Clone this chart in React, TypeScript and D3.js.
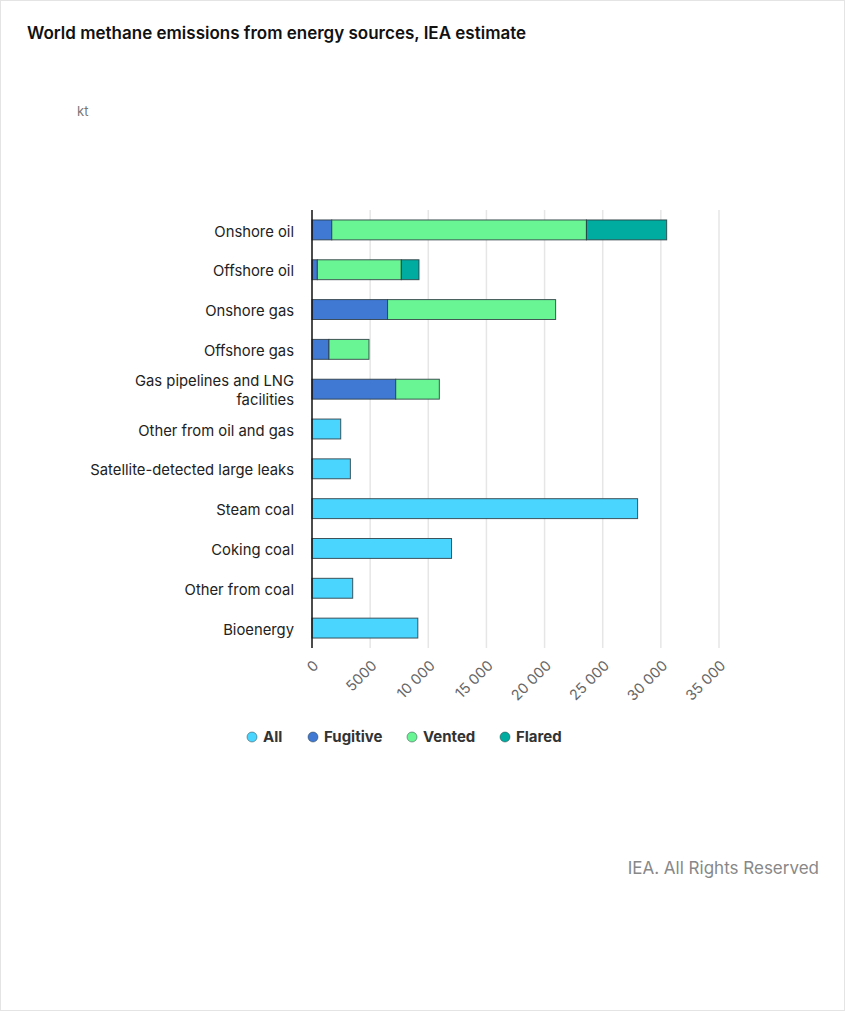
import * as React from 'react';
import * as d3 from 'd3';

const categories = [
  'Onshore oil',
  'Offshore oil',
  'Onshore gas',
  'Offshore gas',
  'Gas pipelines and LNG facilities',
  'Other from oil and gas',
  'Satellite-detected large leaks',
  'Steam coal',
  'Coking coal',
  'Other from coal',
  'Bioenergy',
];

const allValues = [0, 0, 0, 0, 0, 2470, 3300, 28000, 12000, 3500, 9100];
const fugitiveValues = [1700, 460, 6500, 1460, 7200, 0, 0, 0, 0, 0, 0];
const ventedValues = [21900, 7220, 14450, 3440, 3750, 0, 0, 0, 0, 0, 0];
const flaredValues = [6900, 1520, 0, 0, 0, 0, 0, 0, 0, 0, 0];

const xTicks = [0, 5000, 10000, 15000, 20000, 25000, 30000, 35000];

const seriesNames = ['All', 'Fugitive', 'Vented', 'Flared'];
const seriesColors = ['#4ad5ff', '#3f79d4', '#69f594', '#00ac9f'];

const W = 845;
const H = 1011;
const font = 'Inter, "Noto Sans", sans-serif';

function fmt(v: number) {
  if (v < 10000) return String(v);
  return d3.format(',')(v).replace(/,/g, ' ');
}

export default function App() {
  const margin = { top: 210, left: 312, right: 126, bottom: 363 };
  const x = d3.scaleLinear().domain([0, 35000]).range([margin.left, W - margin.right]);
  const y = d3.scaleBand<string>()
    .domain(categories)
    .range([margin.top, H - margin.bottom])
    .paddingInner(0.5)
    .paddingOuter(0.25);

  const series = [allValues, fugitiveValues, ventedValues, flaredValues];

  const bars: JSX.Element[] = [];
  categories.forEach((c, i) => {
    let acc = 0;
    series.forEach((vals, s) => {
      const v = vals[i];
      if (!v) return;
      bars.push(
        <rect
          key={c + s}
          x={x(acc)}
          y={y(c)}
          width={x(acc + v) - x(acc)}
          height={y.bandwidth()}
          fill={seriesColors[s]}
          stroke="#2b3a40"
          strokeOpacity={0.85}
          strokeWidth={1}
        />
      );
      acc += v;
    });
  });

  const legendX = [247, 308, 407, 500];

  return (
    <div style={{ position: 'absolute', left: 0, top: 0 }}>
      <svg width={W} height={H} style={{ display: 'block', fontFamily: font }}>
        <rect x={0.5} y={0.5} width={W - 1} height={H - 1} fill="#fff" stroke="#e4e4e4" />
        <text x={27} y={39} fontSize={17} fontWeight={600} fill="#111">
          World methane emissions from energy sources, IEA estimate
        </text>
        <text x={77} y={116} fontSize={13} fill="#777">kt</text>

        {xTicks.slice(1).map(t => (
          <line key={t} x1={x(t)} x2={x(t)} y1={margin.top} y2={H - margin.bottom} stroke="#e6e6e6" strokeWidth={1.5} />
        ))}

        {bars}

        <line x1={x(0)} x2={x(0)} y1={margin.top} y2={H - margin.bottom} stroke="#111" strokeWidth={1.5} />

        {xTicks.map(t => (
          <text
            key={t}
            transform={`translate(${x(t) + 4},${H - margin.bottom + 15}) rotate(-45)`}
            textAnchor="end"
            fontSize={14.5}
            fill="#666"
            dy="0.35em"
          >
            {fmt(t)}
          </text>
        ))}

        {categories.map(c => {
          const cy = (y(c) as number) + y.bandwidth() / 2;
          if (c === 'Gas pipelines and LNG facilities') {
            return (
              <text key={c} x={294} y={cy} textAnchor="end" fontSize={14.8} fill="#222">
                <tspan x={294} dy="-0.2em">Gas pipelines and LNG</tspan>
                <tspan x={294} dy="1.3em">facilities</tspan>
              </text>
            );
          }
          return (
            <text key={c} x={294} y={cy} dy="0.45em" textAnchor="end" fontSize={14.8} fill="#222">
              {c}
            </text>
          );
        })}

        {seriesNames.map((n, i) => (
          <g key={n} transform={`translate(${legendX[i]},737)`}>
            <circle cx={5} cy={0} r={5} fill={seriesColors[i]} stroke="#2b3a40" strokeOpacity={0.6} strokeWidth={0.8} />
            <text x={16} dy="0.35em" fontSize={15} fontWeight={700} fill="#333">{n}</text>
          </g>
        ))}

        <text x={819} y={874} textAnchor="end" fontSize={17} fill="#888">IEA. All Rights Reserved</text>
      </svg>
    </div>
  );
}
